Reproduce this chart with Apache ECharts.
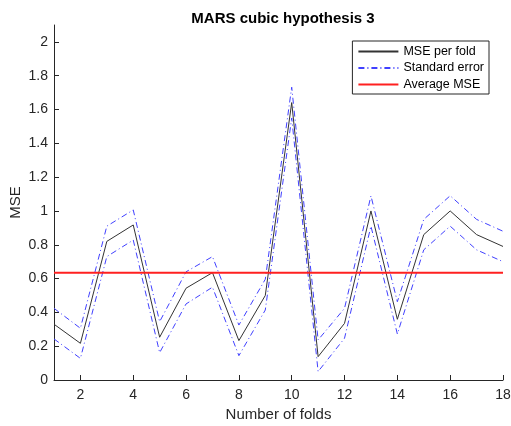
<!DOCTYPE html>
<html>
<head>
<meta charset="utf-8">
<script src="https://cdn.jsdelivr.net/npm/echarts@6/dist/echarts.min.js"></script>
<style>html,body{margin:0;padding:0;background:#fff;}#c{width:511px;height:426px;}</style>
</head>
<body>
<div id="c"></div>
<script>
const folds = ['1','2','3','4','5','6','7','8','9','10','11','12','13','14','15','16','17','18'];
const msePerFold = [0.33,0.217,0.82,0.917,0.253,0.543,0.635,0.233,0.50,1.641,0.138,0.335,1.0,0.359,0.86,1.0,0.86,0.79];
const seUpper   = [0.424,0.306,0.91,1.006,0.345,0.64,0.73,0.325,0.596,1.732,0.237,0.424,1.089,0.463,0.95,1.09,0.95,0.88];
const seLower   = [0.243,0.128,0.73,0.828,0.162,0.45,0.549,0.144,0.414,1.55,0.05,0.247,0.91,0.272,0.77,0.91,0.77,0.70];
const averageMSE = 0.635;
const yTicks = [0,0.2,0.4,0.6,0.8,1,1.2,1.4,1.6,1.8,2];

const font = 'Liberation Sans, Arial, Helvetica, sans-serif';
const axisColor = '#262626';
const chart = echarts.init(document.getElementById('c'), null, {renderer:'canvas'});
const showEven = (i) => (i % 2 === 1);
chart.setOption({
  animation:false,
  backgroundColor:'#fff',
  title:{
    text:'MARS cubic hypothesis 3',
    left:278, top:6, textAlign:'center',
    textStyle:{fontFamily:font,fontSize:15,fontWeight:'bold',color:'#000'}
  },
  legend:{
    orient:'vertical', right:22, top:41,
    itemWidth:40, itemHeight:12, itemGap:3.5,
    padding:[4,5,3,5],
    borderColor:'#262626', borderWidth:1, borderRadius:0,
    backgroundColor:'#fff',
    itemStyle:{opacity:0},
    textStyle:{fontFamily:font,fontSize:12.5,color:'#000'},
    data:['MSE per fold','Standard error','Average MSE']
  },
  grid:{left:54,right:8,top:25,bottom:46,containLabel:false,outerBoundsMode:'none'},
  xAxis:{
    type:'category', data:folds, boundaryGap:false,
    name:'Number of folds', nameLocation:'middle', nameGap:22,
    nameTextStyle:{fontFamily:font,fontSize:15,color:axisColor},
    axisLine:{show:true,lineStyle:{color:axisColor,width:1}},
    axisTick:{show:true,inside:true,length:5,interval:showEven,lineStyle:{color:axisColor}},
    axisLabel:{interval:showEven,fontFamily:font,fontSize:14,color:axisColor,margin:8},
    splitLine:{show:false}
  },
  yAxis:{
    type:'value', min:0, max:2.1, interval:0.2,
    name:'MSE', nameLocation:'middle', nameGap:31, nameMoveOverlap:false,
    nameTextStyle:{fontFamily:font,fontSize:15,color:axisColor},
    axisLine:{show:true,lineStyle:{color:axisColor,width:1}},
    axisTick:{show:true,inside:true,length:5,lineStyle:{color:axisColor}},
    axisLabel:{fontFamily:font,fontSize:14,color:axisColor,margin:6,showMaxLabel:false,
      formatter:(v)=> yTicks.some(t=>Math.abs(t-v)<1e-6) ? String(+v.toFixed(1)) : ''},
    splitLine:{show:false}
  },
  series:[
    {name:'MSE per fold',type:'line',data:msePerFold,symbol:'none',
     lineStyle:{color:'#333',width:1},itemStyle:{color:'#333'}},
    {name:'Standard error',type:'line',data:seUpper,symbol:'none',
     lineStyle:{color:'#4040ff',width:1,type:[6,3,1,3]},itemStyle:{color:'#4040ff'}},
    {name:'Standard error',type:'line',data:seLower,symbol:'none',
     lineStyle:{color:'#4040ff',width:1,type:[6,3,1,3]},itemStyle:{color:'#4040ff'}},
    {name:'Average MSE',type:'line',data:folds.map(()=>averageMSE),symbol:'none',
     lineStyle:{color:'#ff2020',width:2},itemStyle:{color:'#ff2020'}}
  ]
});
</script>
</body>
</html>
